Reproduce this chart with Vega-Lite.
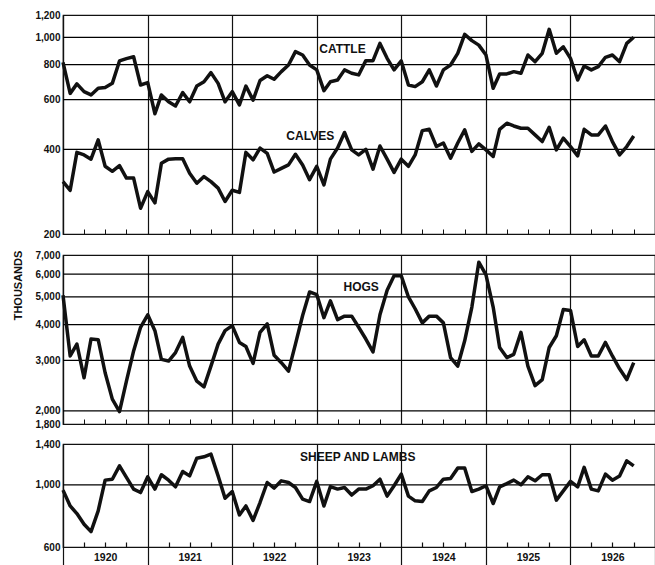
{
  "$schema": "https://vega.github.io/schema/vega-lite/v6.json",
  "padding": {"left": 11, "top": 9, "right": 0, "bottom": 0},
  "background": "white",
  "spacing": 9,
  "config": {
    "font": "Liberation Sans",
    "view": {"stroke": "#111", "strokeWidth": 1.2},
    "axis": {
      "labelFont": "Liberation Sans", "labelFontWeight": "bold", "labelFontSize": 10, "labelColor": "#111",
      "domainColor": "#111", "domainWidth": 1.2, "gridColor": "#222", "tickColor": "#111",
      "titleFont": "Liberation Sans", "titleFontWeight": "bold", "titleColor": "#111"
    },
    "line": {"stroke": "#111", "strokeWidth": 3.5, "strokeJoin": "round"},
    "rule": {"stroke": "#000", "strokeWidth": 1.3, "opacity": 1},
    "text": {"font": "Liberation Sans", "fontWeight": "bold", "fontSize": 12, "fill": "#111"}
  },
  "datasets": {
    "m": [
      {"d":"1920-01","cattle":815,"calves":307,"hogs":5064,"sheep":958},
      {"d":"1920-02","cattle":632,"calves":286,"hogs":3110,"sheep":841},
      {"d":"1920-03","cattle":683,"calves":390,"hogs":3420,"sheep":790},
      {"d":"1920-04","cattle":641,"calves":382,"hogs":2609,"sheep":723},
      {"d":"1920-05","cattle":624,"calves":369,"hogs":3563,"sheep":681},
      {"d":"1920-06","cattle":659,"calves":432,"hogs":3543,"sheep":808},
      {"d":"1920-07","cattle":663,"calves":348,"hogs":2717,"sheep":1040},
      {"d":"1920-08","cattle":686,"calves":334,"hogs":2199,"sheep":1048},
      {"d":"1920-09","cattle":824,"calves":350,"hogs":1989,"sheep":1170},
      {"d":"1920-10","cattle":840,"calves":316,"hogs":2539,"sheep":1063},
      {"d":"1920-11","cattle":853,"calves":316,"hogs":3239,"sheep":966},
      {"d":"1920-12","cattle":677,"calves":247,"hogs":3916,"sheep":939},
      {"d":"1921-01","cattle":690,"calves":283,"hogs":4329,"sheep":1069},
      {"d":"1921-02","cattle":535,"calves":258,"hogs":3811,"sheep":966},
      {"d":"1921-03","cattle":624,"calves":357,"hogs":3026,"sheep":1087},
      {"d":"1921-04","cattle":590,"calves":369,"hogs":2986,"sheep":1040},
      {"d":"1921-05","cattle":570,"calves":370,"hogs":3196,"sheep":984},
      {"d":"1921-06","cattle":636,"calves":370,"hogs":3610,"sheep":1117},
      {"d":"1921-07","cattle":590,"calves":329,"hogs":2867,"sheep":1077},
      {"d":"1921-08","cattle":671,"calves":303,"hogs":2539,"sheep":1246},
      {"d":"1921-09","cattle":695,"calves":320,"hogs":2425,"sheep":1260},
      {"d":"1921-10","cattle":749,"calves":307,"hogs":2867,"sheep":1288},
      {"d":"1921-11","cattle":686,"calves":291,"hogs":3420,"sheep":1077},
      {"d":"1921-12","cattle":590,"calves":261,"hogs":3811,"sheep":896},
      {"d":"1922-01","cattle":641,"calves":286,"hogs":3970,"sheep":947},
      {"d":"1922-02","cattle":575,"calves":281,"hogs":3467,"sheep":781},
      {"d":"1922-03","cattle":671,"calves":390,"hogs":3356,"sheep":841},
      {"d":"1922-04","cattle":598,"calves":367,"hogs":2930,"sheep":747},
      {"d":"1922-05","cattle":702,"calves":404,"hogs":3759,"sheep":865},
      {"d":"1922-06","cattle":730,"calves":387,"hogs":4024,"sheep":1020},
      {"d":"1922-07","cattle":709,"calves":332,"hogs":3127,"sheep":974},
      {"d":"1922-08","cattle":755,"calves":342,"hogs":2946,"sheep":1034},
      {"d":"1922-09","cattle":797,"calves":352,"hogs":2754,"sheep":1020},
      {"d":"1922-10","cattle":889,"calves":384,"hogs":3420,"sheep":979},
      {"d":"1922-11","cattle":865,"calves":352,"hogs":4305,"sheep":889},
      {"d":"1922-12","cattle":797,"calves":312,"hogs":5203,"sheep":872},
      {"d":"1923-01","cattle":766,"calves":348,"hogs":5092,"sheep":1029},
      {"d":"1923-02","cattle":646,"calves":299,"hogs":4230,"sheep":841},
      {"d":"1923-03","cattle":695,"calves":369,"hogs":4840,"sheep":986},
      {"d":"1923-04","cattle":705,"calves":404,"hogs":4166,"sheep":966},
      {"d":"1923-05","cattle":766,"calves":459,"hogs":4283,"sheep":979},
      {"d":"1923-06","cattle":745,"calves":398,"hogs":4283,"sheep":920},
      {"d":"1923-07","cattle":735,"calves":382,"hogs":3916,"sheep":966},
      {"d":"1923-08","cattle":826,"calves":400,"hogs":3563,"sheep":966},
      {"d":"1923-09","cattle":826,"calves":340,"hogs":3213,"sheep":993},
      {"d":"1923-10","cattle":951,"calves":411,"hogs":4329,"sheep":1048},
      {"d":"1923-11","cattle":842,"calves":369,"hogs":5274,"sheep":912},
      {"d":"1923-12","cattle":766,"calves":331,"hogs":5927,"sheep":993},
      {"d":"1924-01","cattle":824,"calves":369,"hogs":5927,"sheep":1093},
      {"d":"1924-02","cattle":677,"calves":348,"hogs":4997,"sheep":912},
      {"d":"1924-03","cattle":668,"calves":382,"hogs":4545,"sheep":877},
      {"d":"1924-04","cattle":695,"calves":466,"hogs":4057,"sheep":872},
      {"d":"1924-05","cattle":766,"calves":471,"hogs":4283,"sheep":952},
      {"d":"1924-06","cattle":671,"calves":409,"hogs":4283,"sheep":979},
      {"d":"1924-07","cattle":766,"calves":421,"hogs":4057,"sheep":1048},
      {"d":"1924-08","cattle":797,"calves":372,"hogs":3069,"sheep":1055},
      {"d":"1924-09","cattle":877,"calves":421,"hogs":2867,"sheep":1148},
      {"d":"1924-10","cattle":1024,"calves":469,"hogs":3513,"sheep":1148},
      {"d":"1924-11","cattle":973,"calves":393,"hogs":4606,"sheep":947},
      {"d":"1924-12","cattle":938,"calves":418,"hogs":6606,"sheep":966},
      {"d":"1925-01","cattle":865,"calves":398,"hogs":5962,"sheep":993},
      {"d":"1925-02","cattle":659,"calves":377,"hogs":4606,"sheep":858},
      {"d":"1925-03","cattle":741,"calves":471,"hogs":3329,"sheep":984},
      {"d":"1925-04","cattle":741,"calves":495,"hogs":3069,"sheep":1011},
      {"d":"1925-05","cattle":755,"calves":484,"hogs":3151,"sheep":1040},
      {"d":"1925-06","cattle":745,"calves":475,"hogs":3759,"sheep":1001},
      {"d":"1925-07","cattle":865,"calves":475,"hogs":2867,"sheep":1069},
      {"d":"1925-08","cattle":819,"calves":450,"hogs":2451,"sheep":1034},
      {"d":"1925-09","cattle":877,"calves":426,"hogs":2573,"sheep":1087},
      {"d":"1925-10","cattle":1067,"calves":479,"hogs":3329,"sheep":1087},
      {"d":"1925-11","cattle":877,"calves":398,"hogs":3659,"sheep":882},
      {"d":"1925-12","cattle":925,"calves":438,"hogs":4521,"sheep":952},
      {"d":"1926-01","cattle":842,"calves":409,"hogs":4484,"sheep":1029},
      {"d":"1926-02","cattle":705,"calves":379,"hogs":3356,"sheep":984},
      {"d":"1926-03","cattle":791,"calves":471,"hogs":3543,"sheep":1155},
      {"d":"1926-04","cattle":766,"calves":450,"hogs":3110,"sheep":966},
      {"d":"1926-05","cattle":787,"calves":450,"hogs":3110,"sheep":952},
      {"d":"1926-06","cattle":849,"calves":484,"hogs":3467,"sheep":1093},
      {"d":"1926-07","cattle":865,"calves":426,"hogs":3110,"sheep":1040},
      {"d":"1926-08","cattle":819,"calves":382,"hogs":2805,"sheep":1077},
      {"d":"1926-09","cattle":951,"calves":409,"hogs":2573,"sheep":1219},
      {"d":"1926-10","cattle":1000,"calves":446,"hogs":2946,"sheep":1170}
    ]
  },
  "vconcat": [
    {
      "width": 592, "height": 219,
      "layer": [
        {"data": {"values": [{"g": 400}, {"g": 600}, {"g": 800}, {"g": 1000}]},
          "mark": {"type": "rule", "stroke": "#000", "strokeWidth": 1.3},
          "encoding": {"y": {"field": "g", "type": "quantitative", "scale": {"type": "log", "domain": [200, 1200], "nice": false}}}},
        {
          "data": {"name": "m"},
          "encoding": {
            "x": {"field": "d", "type": "temporal",
              "scale": {"domain": [{"year": 1920, "month": 1, "date": 1}, {"year": 1927, "month": 1, "date": 1}]},
              "axis": {"title": null, "labels": false, "tickCount": {"interval": "month", "step": 3}, "tickSize": -5, "tickWidth": 1,
                "grid": true, "gridColor": "#111", "gridWidth": 1.2,
                "gridOpacity": {"condition": {"test": "month(datum.value)==0", "value": 1}, "value": 0}}}
          },
          "layer": [
            {"mark": "line", "encoding": {"y": {"field": "cattle", "type": "quantitative",
              "scale": {"type": "log", "domain": [200, 1200], "nice": false},
              "axis": {"title": null, "values": [200, 400, 600, 800, 1000, 1200], "format": ",", "ticks": false, "labelPadding": 3, "grid": false}}}},
            {"mark": "line", "encoding": {"y": {"field": "calves", "type": "quantitative"}}},
            {"data": {"values": [
                {"d": "1923-04-22", "v": 906, "label": "CATTLE"},
                {"d": "1922-12-04", "v": 446, "label": "CALVES"}
              ]},
              "mark": {"type": "text"},
              "encoding": {"x": {"field": "d", "type": "temporal"}, "y": {"field": "v", "type": "quantitative"}, "text": {"field": "label"}}}
          ]
        }
      ]
    },
    {
      "spacing": 8,
      "vconcat": [
        {
          "width": 592, "height": 169,
          "layer": [
            {"data": {"values": [{"g": 2000}, {"g": 3000}, {"g": 4000}, {"g": 5000}, {"g": 6000}]},
              "mark": {"type": "rule", "stroke": "#000", "strokeWidth": 1.3},
              "encoding": {"y": {"field": "g", "type": "quantitative", "scale": {"type": "log", "domain": [1800, 7000], "nice": false}}}},
            {
              "data": {"name": "m"},
              "encoding": {
                "x": {"field": "d", "type": "temporal",
                  "scale": {"domain": [{"year": 1920, "month": 1, "date": 1}, {"year": 1927, "month": 1, "date": 1}]},
                  "axis": {"title": null, "labels": false, "tickCount": {"interval": "month", "step": 3}, "tickSize": -5, "tickWidth": 1,
                    "grid": true, "gridColor": "#111", "gridWidth": 1.2,
                    "gridOpacity": {"condition": {"test": "month(datum.value)==0", "value": 1}, "value": 0}}}
              },
              "layer": [
                {"mark": "line", "encoding": {"y": {"field": "hogs", "type": "quantitative",
                  "scale": {"type": "log", "domain": [1800, 7000], "nice": false},
                  "axis": {"title": "THOUSANDS", "titleX": -45, "titleY": 30, "titleAngle": 270, "titleAlign": "center", "titleBaseline": "middle", "titleFontSize": 11,
                    "values": [1800, 2000, 3000, 4000, 5000, 6000, 7000], "format": ",", "ticks": false, "labelPadding": 3, "grid": false}}}},
                {"data": {"values": [
                    {"d": "1923-07-12", "v": 5400, "label": "HOGS"}
                  ]},
                  "mark": {"type": "text"},
                  "encoding": {"x": {"field": "d", "type": "temporal"}, "y": {"field": "v", "type": "quantitative"}, "text": {"field": "label"}}}
              ]
            }
          ]
        },
        {
          "width": 592, "height": 103,
          "layer": [
            {"data": {"values": [{"g": 1000}]},
              "mark": {"type": "rule", "stroke": "#000", "strokeWidth": 1.3},
              "encoding": {"y": {"field": "g", "type": "quantitative", "scale": {"type": "log", "domain": [600, 1400], "nice": false}}}},
            {
              "data": {"name": "m"},
              "encoding": {
                "x": {"field": "d", "type": "temporal",
                  "scale": {"domain": [{"year": 1920, "month": 1, "date": 1}, {"year": 1927, "month": 1, "date": 1}]},
                  "axis": {"title": null, "tickCount": {"interval": "month", "step": 3},
                    "tickSize": {"condition": {"test": "month(datum.value)==0", "value": 19}, "value": -5},
                    "tickWidth": 1.2,
                    "labelExpr": "month(datum.value)==6 ? timeFormat(datum.value, '%Y') : ''",
                    "labelOverlap": false, "labelFlush": false, "labelPadding": 10, "labelFontSize": 10.5,
                    "grid": true, "gridColor": "#111", "gridWidth": 1.2,
                    "gridOpacity": {"condition": {"test": "month(datum.value)==0", "value": 1}, "value": 0}}}
              },
              "layer": [
                {"mark": "line", "encoding": {"y": {"field": "sheep", "type": "quantitative",
                  "scale": {"type": "log", "domain": [600, 1400], "nice": false},
                  "axis": {"title": null, "values": [600, 1000, 1400], "format": ",", "ticks": false, "labelPadding": 3, "grid": false}}}},
                {"data": {"values": [
                    {"d": "1923-06-27", "v": 1254, "label": "SHEEP AND LAMBS"}
                  ]},
                  "mark": {"type": "text"},
                  "encoding": {"x": {"field": "d", "type": "temporal"}, "y": {"field": "v", "type": "quantitative"}, "text": {"field": "label"}}}
              ]
            }
          ]
        }
      ]
    }
  ]
}
